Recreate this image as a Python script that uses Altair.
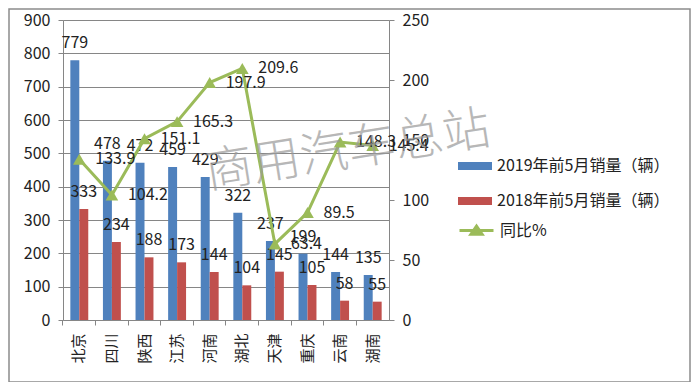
import altair as alt
import pandas as pd

cats = ["北京", "四川", "陕西", "江苏", "河南", "湖北", "天津", "重庆", "云南", "湖南"]
sales_2019 = [779, 478, 472, 459, 429, 322, 237, 199, 144, 135]
sales_2018 = [333, 234, 188, 173, 144, 104, 145, 105, 58, 55]
yoy = [133.9, 104.2, 151.1, 165.3, 197.9, 209.6, 63.4, 89.5, 148.3, 145.4]
s19 = "2019年前5月销量（辆）"
s18 = "2018年前5月销量（辆）"
s_yoy = "同比%"
left_ticks = [0, 100, 200, 300, 400, 500, 600, 700, 800, 900]
right_ticks = [0, 50, 100, 150, 200, 250]
watermark = "商用汽车总站"

FONT = "Noto Sans CJK SC"
BLUE, RED, GREEN = "#4F81BD", "#C0504D", "#9BBB59"
GRAY = "#868686"
TXT = "#222222"

bars_df = pd.DataFrame(
    [{"cat": c, "series": s19, "value": v} for c, v in zip(cats, sales_2019)]
    + [{"cat": c, "series": s18, "value": v} for c, v in zip(cats, sales_2018)]
)
line_df = pd.DataFrame({"cat": cats, "yoy": yoy, "metric": [s_yoy] * len(cats)})

x_enc = alt.X(
    "cat:N",
    sort=cats,
    scale=alt.Scale(paddingInner=0.45, paddingOuter=0.225),
    axis=alt.Axis(
        title=None, labelAngle=270, labelFontSize=15, labelColor=TXT, labelFont=FONT,
        labelPadding=8, tickSize=5, tickColor=GRAY, domainColor=GRAY, grid=False,
        bandPosition=-0.41,
    ),
)
xoff = alt.XOffset("series:N", sort=[s19, s18], scale=alt.Scale(paddingInner=0))

y_left = alt.Y(
    "value:Q",
    scale=alt.Scale(domain=[0, 900], nice=False),
    axis=alt.Axis(
        title=None, values=left_ticks, labelFontSize=16, labelColor=TXT, labelFont=FONT,
        tickSize=5, tickColor=GRAY, domainColor=GRAY, labelPadding=8,
        grid=True, gridColor=GRAY, gridWidth=1,
    ),
)
y_right = alt.Y(
    "yoy:Q",
    scale=alt.Scale(domain=[0, 250], nice=False),
    axis=alt.Axis(
        title=None, orient="right", values=right_ticks, labelFontSize=16, labelColor=TXT,
        labelFont=FONT, tickSize=5, tickColor=GRAY, domainColor=GRAY, labelPadding=8,
        grid=False,
    ),
)

bar_sym = "M-1,-0.24H1V0.24H-1Z"
bars = alt.Chart(bars_df).mark_bar().encode(
    x=x_enc,
    xOffset=xoff,
    y=y_left,
    color=alt.Color(
        "series:N",
        sort=[s19, s18],
        scale=alt.Scale(domain=[s19, s18], range=[BLUE, RED]),
        legend=alt.Legend(
            title=None, orient="none", legendX=395, legendY=129,
            symbolType=bar_sym, symbolSize=1156, symbolStrokeWidth=0,
            labelFontSize=16, labelFont=FONT, labelColor=TXT, labelOffset=5,
            rowPadding=10, labelLimit=300,
        ),
    ),
)
bar_text = alt.Chart(bars_df).mark_text(
    dy=-17, fontSize=16, font=FONT, color=TXT, baseline="middle"
).encode(x=x_enc, xOffset=xoff, y=y_left, text="value:Q")

left = alt.layer(bars, bar_text)

line_sym = "M-1,0H1M-0.33,0.22L0,-0.26L0.33,0.22Z"
line = alt.Chart(line_df).mark_line(strokeWidth=3).encode(
    x=x_enc,
    y=y_right,
    stroke=alt.Stroke(
        "metric:N",
        scale=alt.Scale(domain=[s_yoy], range=[GREEN]),
        legend=alt.Legend(
            title=None, orient="none", legendX=395, legendY=192,
            symbolType=line_sym, symbolSize=1156, symbolStrokeWidth=3,
            symbolFillColor=GREEN,
            labelFontSize=16, labelFont=FONT, labelColor=TXT, labelOffset=5,
        ),
    ),
)
points = alt.Chart(line_df).mark_point(
    shape="triangle-up", filled=True, size=160, color=GREEN, opacity=1
).encode(x=x_enc, y=y_right)
line_text = alt.Chart(line_df).mark_text(
    align="left", dx=16, fontSize=16, font=FONT, color=TXT, baseline="middle"
).encode(x=x_enc, y=y_right, text=alt.Text("yoy:Q", format=".1f"))

right = alt.layer(line, points, line_text)

wm = alt.Chart(pd.DataFrame({"t": [watermark]})).mark_text(
    fontSize=48, font=FONT, color="#9a9a9a", opacity=0.7, angle=351,
    align="center", baseline="middle", fontWeight=300,
).encode(x=alt.value(285), y=alt.value(132), text="t:N")

border = alt.Chart(pd.DataFrame({"b": [1]})).mark_rect(
    fillOpacity=0, stroke="#8c8c8c", strokeWidth=1.5, clip=False
).encode(x=alt.value(-54), x2=alt.value(627), y=alt.value(-11), y2=alt.value(362))

chart = (
    alt.layer(left, right, wm, border)
    .resolve_scale(y="independent")
    .properties(
        width=326, height=300,
        autosize=alt.AutoSizeParams(type="none"),
        padding={"left": 55, "top": 12, "right": 302, "bottom": 62},
    )
    .configure_view(stroke=None)
    .configure(background="white")
)

chart.save("out.html", embed_options={"renderer": "svg", "actions": False})
